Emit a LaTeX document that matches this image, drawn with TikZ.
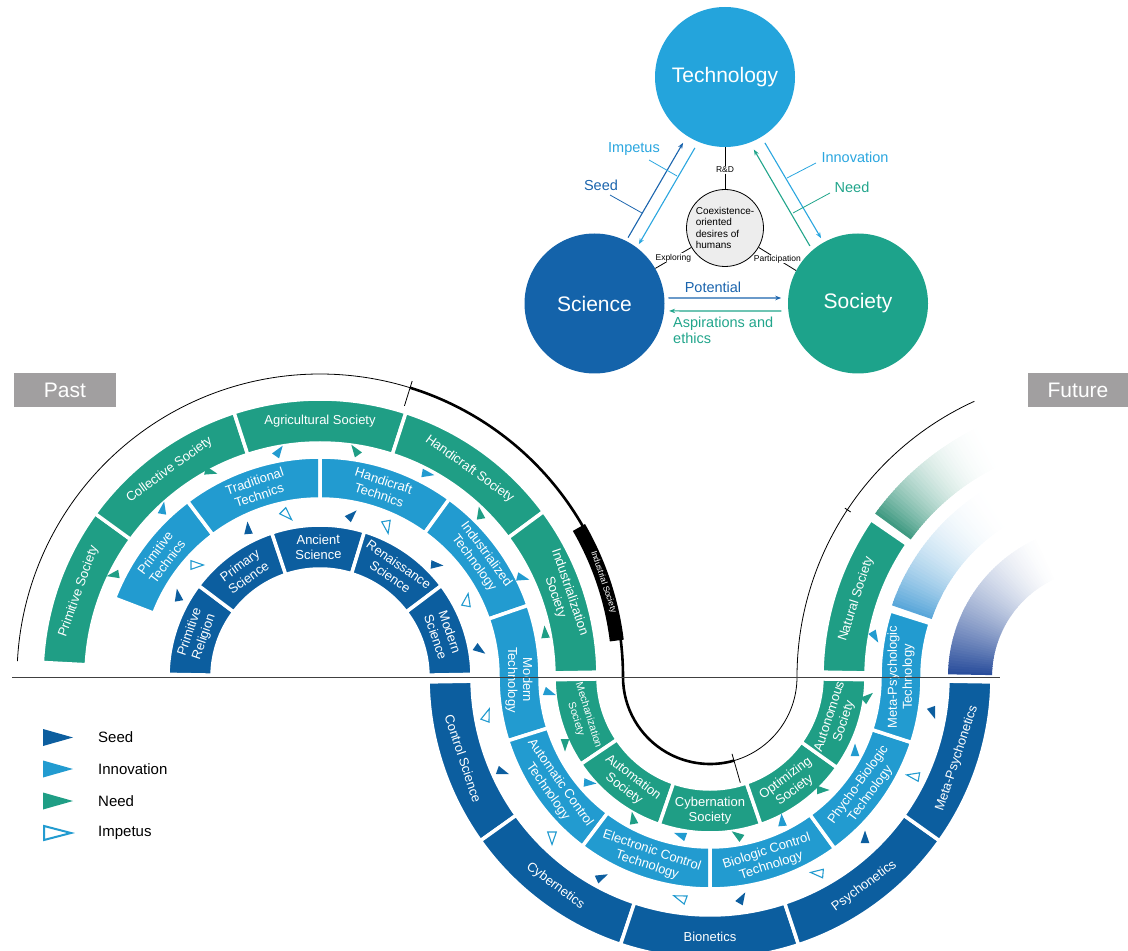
\documentclass[tikz,border=0pt]{standalone}
\usepackage{fontspec}
\setmainfont{Liberation Sans}
\usetikzlibrary{arrows.meta}
\definecolor{sciC}{HTML}{0C5E9F}
\definecolor{techC}{HTML}{229BD0}
\definecolor{socC}{HTML}{1F9E85}
\definecolor{sciCirc}{HTML}{1463AA}
\definecolor{techCirc}{HTML}{24A4DC}
\definecolor{socCirc}{HTML}{1DA38B}
\definecolor{pastC}{HTML}{A19FA0}
\definecolor{sciFade}{HTML}{2A4E9C}
\definecolor{techFade}{HTML}{3D97D3}
\definecolor{socFade}{HTML}{2B8F74}
\definecolor{arDark}{HTML}{1A64AD}
\definecolor{arLight}{HTML}{2AA6DF}
\definecolor{arGreen}{HTML}{21A58B}
\definecolor{coreC}{HTML}{EDEDED}
\newcommand\ringseg[6]{\fill[seg,#6] ([shift={(#2:#4)}]#1,0) arc[start angle=#2,end angle=#3,radius=#4] -- ([shift={(#3:#5)}]#1,0) arc[start angle=#3,end angle=#2,radius=#5] -- cycle;}
\newcommand\rlabel[6]{\node[lbl,rotate=#5] (#6) at ([shift={(#2:#3)}]#1,0) {#4};}
\newcommand\tri[4]{\path[#4,shift={(#1,#2)},rotate=#3] (6.5,0) -- (-6,4.3) -- (-6,-4.3) -- cycle;}
\newcommand\fadeband[9]{%
  \foreach \i in {0,...,#7}{%
    \pgfmathsetmacro\aa{#2-\i*(#2-#3)/(#7+1)}%
    \pgfmathsetmacro\bb{\aa-(#2-#3)/(#7+1)-0.4}%
    \pgfmathsetmacro\pp{#8*(1-\i/(#7+1))^#9}%
    \fill[#6!\pp!white] ([shift={(\aa:#4)}]#1,0) arc[start angle=\aa,end angle=\bb,radius=#4] -- ([shift={(\bb:#5)}]#1,0) arc[start angle=\bb,end angle=\aa,radius=#5] -- cycle;}}
\begin{document}
\begin{tikzpicture}[x=1pt,y=1pt,
  seg/.style={draw=white,line width=3.5pt},
  lbl/.style={text=white,font=\fontsize{13}{15}\selectfont,align=center,inner sep=0pt},
  seedT/.style={fill=sciC},
  innT/.style={fill=techC},
  needT/.style={fill=socC},
  impT/.style={draw=techC,line width=1.1pt,fill=white},
  bigc/.style={circle,minimum size=140pt,inner sep=0pt,text=white,font=\fontsize{21}{25}\selectfont},
  arr/.style={line width=1.1pt,-{Stealth[length=6pt,width=4.5pt]}},
  toplbl/.style={font=\fontsize{14.5}{17}\selectfont,inner sep=1pt},
  small/.style={font=\fontsize{8.5}{10}\selectfont,fill=white,inner sep=0.5pt},
  tagbox/.style={fill=pastC,text=white,font=\fontsize{21}{25}\selectfont,minimum height=34pt,inner sep=0pt},
  legtxt/.style={anchor=west,font=\fontsize{15}{18}\selectfont,inner sep=0pt}]
\useasboundingbox (0,-274) rectangle (1128,677);

% ---------------- top triad ----------------
\node[bigc,fill=techCirc] (tech) at (725,600) {Technology};
\node[bigc,fill=sciCirc] (sci) at (594.5,373.5) {Science};
\node[bigc,fill=socCirc] (soc) at (858,373.5) {Society};
\node[circle,draw=black,line width=0.8pt,fill=coreC,minimum size=77pt,inner sep=0pt,align=left,font=\fontsize{10}{11.5}\selectfont] (core) at (725,449) {Coexistence-\\oriented\\desires of\\humans};

\draw[arr,arDark] ([shift={(63:74)}]sci.center) -- ([shift={(237.5:78)}]tech.center);
\draw[arr,arLight] ([shift={(247:77)}]tech.center) -- ([shift={(53.2:74)}]sci.center);
\draw[arr,arLight] ([shift={(301.2:77)}]tech.center) -- ([shift={(119.5:75)}]soc.center);
\draw[arr,arGreen] ([shift={(129.9:75)}]soc.center) -- ([shift={(291.7:78)}]tech.center);
\draw[arr,arDark] ([shift={(4.3:74)}]sci.center) -- ([shift={(175.9:77)}]soc.center);
\draw[arr,arGreen] ([shift={(185.6:77)}]soc.center) -- ([shift={(354.3:75)}]sci.center);

\node[toplbl,text=arLight] (limp) at (634,528) {Impetus};
\node[toplbl,text=arDark] (lseed) at (601,492) {Seed};
\node[toplbl,text=arLight] (linn) at (855,520) {Innovation};
\node[toplbl,text=arGreen] (lneed) at (852,490) {Need};
\node[toplbl,text=arDark] (lpot) at (713,390) {Potential};
\node[toplbl,text=arGreen,align=left,anchor=west,font=\fontsize{14.5}{16}\selectfont] (lasp) at (672,347) {Aspirations and\\ethics};
\coordinate (ci1) at (649,517); \coordinate (ci2) at (677,501);
\coordinate (cs1) at (610,482); \coordinate (cs2) at (642,464);
\coordinate (cn1) at (816,514); \coordinate (cn2) at (787,499);
\coordinate (cd1) at (830,484); \coordinate (cd2) at (793,464);
\draw[arLight,line width=0.8pt] (ci1) -- (ci2);
\draw[arDark,line width=0.8pt] (cs1) -- (cs2);
\draw[arLight,line width=0.8pt] (cn1) -- (cn2);
\draw[arGreen,line width=0.8pt] (cd1) -- (cd2);

\node[small] (rd) at (725,507) {R\&D};
\draw[line width=0.8pt] (tech.south) -- (rd.north);
\draw[line width=0.8pt] (rd.south) -- (core.north);
\draw[line width=0.8pt] (sci.30) -- (core.210) node[small,midway] (lexp) {Exploring};
\draw[line width=0.8pt] (core.330) -- (soc.152) node[small,midway] (lpar) {Participation};

% ---------------- Past / Future ----------------
\node[tagbox,minimum width=102pt] (past) at (65,287) {Past};
\node[tagbox,minimum width=100pt] (future) at (1078,287) {Future};

% ---------------- outer time line ----------------
\draw[line width=0.8pt] ([shift={(177:303)}]320,0) arc[start angle=177,end angle=72.7,radius=303];
\draw[line width=2.6pt] ([shift={(72.7:303)}]320,0) arc[start angle=72.7,end angle=0,radius=303] arc[start angle=180,end angle=286,radius=87];
\draw[line width=0.8pt] ([shift={(286:87)}]710,0) arc[start angle=286,end angle=360,radius=87] arc[start angle=180,end angle=114.5,radius=303];
\draw[line width=0.8pt] ([shift={(72.7:284)}]320,0) -- ([shift={(72.7:310)}]320,0);
\draw[line width=0.8pt] ([shift={(286:80)}]710,0) -- ([shift={(286:110)}]710,0);
\draw[line width=0.8pt] ([shift={(146.5:299)}]1100,0) -- ([shift={(146.5:306)}]1100,0);
\draw[line width=14pt] ([shift={(30:299)}]320,0) arc[start angle=30,end angle=7,radius=299];
\node[text=white,font=\fontsize{8.5}{10}\selectfont,rotate=-71.5,inner sep=0pt] (indlbl) at ([shift={(18.5:299)}]320,0) {Industrial Society};

% ---------------- upper-left rings (centre 320,0) ----------------
\ringseg{320}{179}{143}{108}{152}{fill=sciC}
\ringseg{320}{143}{108.5}{108}{152}{fill=sciC}
\ringseg{320}{108.5}{73}{108}{152}{fill=sciC}
\ringseg{320}{73}{37}{108}{152}{fill=sciC}
\ringseg{320}{37}{1}{108}{152}{fill=sciC}
\ringseg{320}{159}{127}{178}{220}{fill=techC}
\ringseg{320}{127}{90}{178}{220}{fill=techC}
\ringseg{320}{90}{54}{178}{220}{fill=techC}
\ringseg{320}{54}{19}{178}{220}{fill=techC}
\ringseg{320}{177}{144}{234}{278}{fill=socC}
\ringseg{320}{144}{108}{234}{278}{fill=socC}
\ringseg{320}{108}{72}{234}{278}{fill=socC}
\ringseg{320}{72}{36.5}{234}{278}{fill=socC}
\ringseg{320}{36.5}{1}{234}{278}{fill=socC}
% Modern Technology (crosses the line)
\fill[seg,fill=techC] ([shift={(19:220)}]320,0) arc[start angle=19,end angle=0,radius=220] arc[start angle=180,end angle=197.5,radius=170] -- ([shift={(197.5:212)}]710,0) arc[start angle=197.5,end angle=180,radius=212] arc[start angle=0,end angle=19,radius=178] -- cycle;

% ---------------- lower rings (centre 710,0) ----------------
\ringseg{710}{181}{215.5}{238}{282}{fill=sciC}
\ringseg{710}{215.5}{251.5}{238}{282}{fill=sciC}
\ringseg{710}{251.5}{288.3}{238}{282}{fill=sciC}
\ringseg{710}{288.3}{324.5}{238}{282}{fill=sciC}
\ringseg{710}{324.5}{359}{238}{282}{fill=sciC}
\ringseg{710}{197.5}{233}{170}{212}{fill=techC}
\ringseg{710}{233}{270}{170}{212}{fill=techC}
\ringseg{710}{270}{306}{170}{212}{fill=techC}
\ringseg{710}{306}{342}{170}{212}{fill=techC}
\ringseg{710}{181}{214}{112}{156}{fill=socC}
\ringseg{710}{214}{251}{112}{156}{fill=socC}
\ringseg{710}{251}{289}{112}{156}{fill=socC}
\ringseg{710}{289}{324.5}{112}{156}{fill=socC}
\ringseg{710}{324.5}{359}{112}{156}{fill=socC}
% Meta-Psychologic Technology (crosses the line)
\fill[seg,fill=techC] ([shift={(342:170)}]710,0) arc[start angle=342,end angle=360,radius=170] arc[start angle=180,end angle=162.5,radius=220] -- ([shift={(162.5:178)}]1100,0) arc[start angle=162.5,end angle=180,radius=178] arc[start angle=360,end angle=342,radius=212] -- cycle;

% ---------------- upper-right rings (centre 1100,0) ----------------
\ringseg{1100}{179}{145.5}{234}{278}{fill=socC}
\fadeband{1100}{179}{114}{108}{152}{sciFade}{59}{100}{1.6}
\fadeband{1100}{161}{121}{178}{220}{techFade}{45}{85}{2.2}
\fadeband{1100}{144}{115}{234}{278}{socFade}{39}{90}{2.3}

% ---------------- labels ----------------
\rlabel{320}{161}{130}{Primitive\\Religion}{71}{lpr}
\rlabel{320}{125.75}{130}{Primary\\Science}{35.75}{lps}
\rlabel{320}{90.75}{130}{Ancient\\Science}{0.75}{las}
\rlabel{320}{55}{130}{Renaissance\\Science}{-35}{lrs}
\rlabel{320}{19}{130}{Modern\\Science}{-71}{lms}
\rlabel{320}{143}{199}{Primitive\\Technics}{53}{lpt}
\rlabel{320}{108.5}{199}{Traditional\\Technics}{18.5}{ltt}
\rlabel{320}{72}{199}{Handicraft\\Technics}{-18}{lht}
\rlabel{320}{36.5}{199}{Industrialized\\Technology}{-53.5}{lit}
\node[lbl,rotate=-90] (lmt) at (519,-3) {Modern\\Technology};
\rlabel{320}{160.5}{256}{Primitive Society}{70.5}{lpso}
\rlabel{320}{126}{256}{Collective Society}{36}{lcs}
\rlabel{320}{90}{256}{Agricultural Society}{0}{lags}
\rlabel{320}{54.25}{256}{Handicraft Society}{-35.75}{lhs}
\rlabel{320}{18.75}{256}{Industrialization\\Society}{-71.25}{lis}

\rlabel{710}{198.25}{260}{Control Science}{-71.75}{lcsc}
\rlabel{710}{233.5}{260}{Cybernetics}{-36.5}{lcyb}
\rlabel{710}{270}{260}{Bionetics}{0}{lbio}
\rlabel{710}{306.4}{260}{Psychonetics}{36.4}{lpsy}
\rlabel{710}{341.75}{260}{Meta-Psychonetics}{71.75}{lmpsy}
\rlabel{710}{215.25}{191}{Automatic Control\\Technology}{-54.75}{lact}
\rlabel{710}{251.5}{191}{Electronic Control\\Technology}{-18.5}{lect}
\rlabel{710}{288}{191}{Biologic Control\\Technology}{18}{lbct}
\rlabel{710}{324}{191}{Phycho-Biologic\\Technology}{54}{lpbt}
\node[lbl,rotate=90] (lmpt) at (901,0) {Meta-Psychologic\\Technology};
\node[lbl,rotate=-72.5,font=\fontsize{10.5}{13}\selectfont] (lmech) at ([shift={(197.5:134)}]710,0) {Mechanization\\Society};
\rlabel{710}{232.5}{134}{Automation\\Society}{-37.5}{lauto}
\rlabel{710}{270}{134}{Cybernation\\Society}{0}{lcybs}
\rlabel{710}{306.75}{134}{Optimizing\\Society}{36.75}{lopt}
\rlabel{710}{341.75}{134}{Autonomous\\Society}{71.75}{laut}
\rlabel{1100}{162.25}{256}{Natural Society}{72.25}{lnat}

% ---------------- small triangles ----------------
% seed
\tri{178}{82}{100}{seedT}
\tri{248}{149}{95}{seedT}
\tri{352}{162}{45}{seedT}
\tri{437}{112}{-5}{seedT}
\tri{480}{27}{-35}{seedT}
\tri{503}{-95}{-20}{seedT}
\tri{602}{-200}{25}{seedT}
\tri{742}{-221}{60}{seedT}
\tri{865}{-160}{90}{seedT}
\tri{933}{-36}{-70}{seedT}
% impetus
\tri{197}{112}{0}{impT}
\tri{287}{162}{-45}{impT}
\tri{387}{150}{-80}{impT}
\tri{467}{77}{80}{impT}
\tri{487}{-38}{70}{impT}
\tri{552}{-161}{-90}{impT}
\tri{680}{-221}{160}{impT}
\tri{817}{-196}{175}{impT}
\tri{913}{-99}{170}{impT}
% innovation
\tri{163}{169}{80}{innT}
\tri{279}{226}{55}{innT}
\tri{428}{203}{-10}{innT}
\tri{523}{99}{-15}{innT}
\tri{550}{-16}{-20}{innT}
\tri{590}{-106}{-5}{innT}
\tri{680}{-158}{160}{innT}
\tri{782}{-143}{95}{innT}
\tri{855}{-73}{90}{innT}
\tri{875}{40}{-60}{innT}
% need
\tri{113}{102}{190}{needT}
\tri{211}{205}{-15}{needT}
\tri{355}{227}{125}{needT}
\tri{480}{164}{100}{needT}
\tri{545}{45}{95}{needT}
\tri{565}{-68}{-90}{needT}
\tri{633}{-141}{100}{needT}
\tri{737}{-158}{145}{needT}
\tri{823}{-113}{0}{needT}
\tri{868}{-20}{40}{needT}

% ---------------- base line ----------------
\draw[line width=0.9pt,black!75] (12,0) -- (1000,0);

% ---------------- legend ----------------
\fill[sciC] (43,-52) -- (73,-60.5) -- (43,-69) -- cycle;
\fill[techC] (43,-83.5) -- (73,-92) -- (43,-100.5) -- cycle;
\fill[socC] (43,-115.5) -- (73,-124) -- (43,-132.5) -- cycle;
\draw[techC,line width=2pt,fill=white] (44,-149) -- (71,-156) -- (44,-163) -- cycle;
\node[legtxt] (lg1) at (98,-60.5) {Seed};
\node[legtxt] (lg2) at (98,-92) {Innovation};
\node[legtxt] (lg3) at (98,-124) {Need};
\node[legtxt] (lg4) at (98,-156) {Impetus};
\end{tikzpicture}
\end{document}
